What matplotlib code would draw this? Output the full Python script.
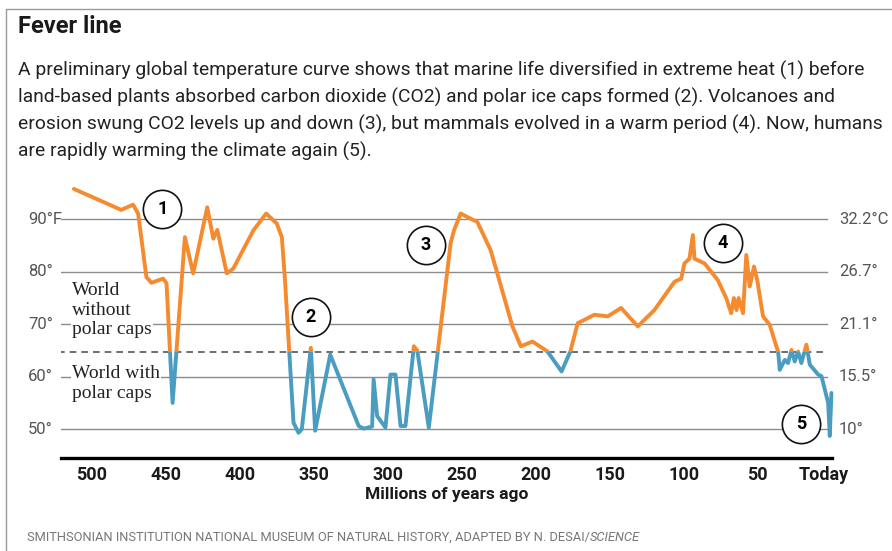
import matplotlib.pyplot as plt
from matplotlib.patches import Rectangle
from matplotlib.lines import Line2D
from matplotlib.transforms import ScaledTranslation

# Age in millions of years, temperature in deg F
ages = [512, 480, 472, 468.6, 463, 459.6, 451.7, 449.4, 445.3, 437, 431.4, 421.9,
        417.8, 415.1, 408.7, 404.3, 390.7, 382.1, 374.9, 371.5, 369.5, 363.6, 360.2,
        358, 351.9, 349, 338.8, 319.6, 316.2, 310.5, 309.5, 307.1, 301.5, 298.1,
        294.7, 291.3, 288, 282.3, 280, 272.2, 257.5, 255.2, 250.7, 241.7, 239.4,
        230.4, 215.7, 210.0, 202.1, 192.0, 182.5, 176.6, 171.6, 160.4, 151.3,
        142.3, 131.0, 119.8, 106.2, 101.7, 99.5, 96.1, 93.8, 92.7, 85.9, 76.9,
        71.3, 67.9, 66.1, 64.3, 62.9, 59.9, 57.7, 55.4, 52.5, 50.3, 46.4, 41.9,
        37.4, 36.2, 35.1, 31.7, 29.5, 27.2, 25.0, 22.7, 20.5, 17.1, 14.8, 9.1,
        6.9, 2.4, 1.3, 0.2]
temps = [95.8, 91.8, 92.8, 91.1, 79.0, 77.9, 78.7, 77.8, 55.0, 86.6, 79.7, 92.3,
         86.3, 88.0, 79.7, 80.6, 87.9, 91.1, 89.2, 86.6, 79.0, 51.2, 49.3,
         50.0, 65.5, 49.7, 64.2, 50.6, 50.1, 50.5, 59.5, 52.5, 50.3, 60.4,
         60.4, 50.6, 50.6, 65.8, 65.0, 50.3, 85.4, 87.9, 91.1, 89.8, 89.5,
         84.1, 69.6, 65.8, 66.7, 64.8, 61.0, 64.8, 70.2, 71.8, 71.5,
         73.1, 69.6, 72.7, 78.1, 78.7, 81.6, 82.5, 87.0, 82.5, 81.6, 78.4,
         75.0, 72.1, 75.0, 72.7, 75.0, 72.1, 83.2, 77.2, 81.0, 78.4, 71.5, 69.9,
         65.8, 64.8, 61.3, 63.2, 62.6, 65.1, 62.9, 64.8, 62.6, 66.1, 62.3, 60.4,
         60.1, 55.0, 48.7, 56.9]

polar_cap_line = 64.7
f_ticks = [90, 80, 70, 60, 50]
f_labels = ['90°F', '80°', '70°', '60°', '50°']
c_labels = ['32.2°C', '26.7°', '21.1°', '15.5°', '10°']
x_ticks = [500, 450, 400, 350, 300, 250, 200, 150, 100, 50, 0]
x_labels = ['500', '450', '400', '350', '300', '250', '200', '150', '100', '50', 'Today']

# numbered callouts (age, temp)
marker_ages = [452.2, 351.8, 274.4, 73.4, 20.8]
marker_temps = [92.0, 71.3, 85.1, 85.5, 50.9]
marker_text = ['1', '2', '3', '4', '5']

ORANGE = '#f58a2e'
BLUE = '#4a9cc0'
W, H = 892, 551
X0 = 520.7  # age at the left edge of the axes

plt.rcParams['font.family'] = 'Roboto'

fig = plt.figure(figsize=(W / 100, H / 100), dpi=100)

# thin frame on the left and top
fig.add_artist(Line2D([6 / W, 6 / W, 1], [0, 1 - 9 / H, 1 - 9 / H], transform=fig.transFigure,
                      color='#9a9a9a', lw=1))

fig.text(18 / W, 1 - 33 / H, 'Fever line', fontsize=17, fontweight='bold', color='#1a1a1a',
         va='baseline')
body = ["A preliminary global temperature curve shows that marine life diversified in extreme heat (1) before",
        "land-based plants absorbed carbon dioxide (CO2) and polar ice caps formed (2). Volcanoes and",
        "erosion swung CO2 levels up and down (3), but mammals evolved in a warm period (4). Now, humans",
        "are rapidly warming the climate again (5)."]
for i, line in enumerate(body):
    fig.text(18 / W, 1 - (76 + 27 * i) / H, line, fontsize=13.9, color='#222222', va='baseline')

ax = fig.add_axes([61 / W, (H - 458) / H, (832 - 61) / W, (458 - 180) / H])
ax.set_xlim(X0, -0.2)
ax.set_ylim(44.5, 97.5)

for t in f_ticks:
    ax.axhline(t, xmin=0, xmax=0.993, color='#8c8c8c', lw=1, zorder=1)
ax.axhline(polar_cap_line, xmin=-0.004, xmax=0.993, color='#555555', lw=1.2,
           dashes=(4, 3), zorder=1)

# warm part orange, cold part blue
above = Rectangle((-50, polar_cap_line), 700, 100, transform=ax.transData)
below = Rectangle((-50, 0), 700, polar_cap_line, transform=ax.transData)
l1, = ax.plot(ages, temps, color=ORANGE, lw=2.8, solid_joinstyle='round',
              solid_capstyle='round', zorder=3)
l1.set_clip_path(above)
l2, = ax.plot(ages, temps, color=BLUE, lw=2.8, solid_joinstyle='round',
              solid_capstyle='round', zorder=3)
l2.set_clip_path(below)

ax.scatter(marker_ages, marker_temps, s=760, facecolor='white', edgecolor='#111111',
           linewidth=1.2, zorder=4)
for a, t, s in zip(marker_ages, marker_temps, marker_text):
    ax.text(a, t, s, ha='center', va='center', fontsize=13, fontweight='bold', zorder=5)

ytr = ax.get_yaxis_transform()
for t, fl, cl in zip(f_ticks, f_labels, c_labels):
    ax.text((28 - 61) / 771, t, fl, transform=ytr, ha='left', va='center', fontsize=12,
            color='#555555')
    ax.text((839 - 61) / 771, t, cl, transform=ytr, ha='left', va='center', fontsize=12,
            color='#555555')

box = dict(facecolor='white', edgecolor='none', pad=1)
label_x = X0 - (72 - 61) / 1.48
ax.text(label_x, 72.7, 'World\nwithout\npolar caps', family='Liberation Serif', fontsize=14,
        linespacing=1.22, color='#222222', va='center', ha='left', bbox=box, zorder=2)
ax.text(label_x, 58.7, 'World with\npolar caps', family='Liberation Serif', fontsize=14,
        linespacing=1.22, color='#222222', va='center', ha='left', bbox=box, zorder=2)

for side in ['top', 'right', 'left']:
    ax.spines[side].set_visible(False)
ax.spines['bottom'].set_linewidth(2.4)
ax.set_yticks([])
ax.set_xticks(x_ticks)
ax.set_xticklabels(x_labels, fontsize=13, fontweight='bold', color='#1a1a1a')
ax.tick_params(axis='x', length=0, pad=6)
today = ax.get_xticklabels()[-1]
today.set_transform(today.get_transform() + ScaledTranslation(-0.08, 0, fig.dpi_scale_trans))
ax.set_xlabel('Millions of years ago', fontsize=12.5, fontweight='bold', color='#1a1a1a',
              labelpad=2)

src = fig.text(27 / W, 1 - 541 / H, 'SMITHSONIAN INSTITUTION NATIONAL MUSEUM OF NATURAL HISTORY, ADAPTED BY N. DESAI/',
               fontsize=9.3, color='#777777', va='baseline')
fig.canvas.draw()
bb = src.get_window_extent()
fig.text(bb.x1 / W, 1 - 541 / H, 'SCIENCE', fontsize=9.3, color='#777777', va='baseline',
         style='italic')

fig.savefig('out.png', dpi=100)
